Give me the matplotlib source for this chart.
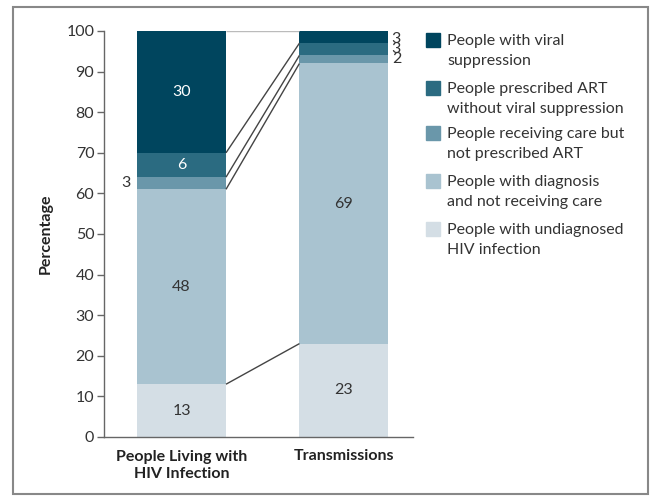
import numpy as np
import matplotlib.pyplot as plt
from matplotlib.patches import Rectangle

plt.rcParams['font.family'] = ['Lato', 'DejaVu Sans']

groups = ['People Living with\nHIV Infection', 'Transmissions']
series = ['People with undiagnosed\nHIV infection',
          'People with diagnosis\nand not receiving care',
          'People receiving care but\nnot prescribed ART',
          'People prescribed ART\nwithout viral suppression',
          'People with viral\nsuppression']
living = [13, 48, 3, 6, 30]
transmissions = [23, 69, 2, 3, 3]
colors = ['#d4dee5', '#a9c3d0', '#6a97aa', '#2b6b81', '#00455e']
text_colors = ['#333333', '#333333', '#333333', 'white', 'white']

W, H = 652, 497
fs = 11.5
fig = plt.figure(figsize=(W / 100, H / 100), dpi=100)
ax = fig.add_axes([104 / W, 1 - 437 / H, (413 - 104) / W, (437 - 31) / H])

x = np.array([0, 1])
width = 0.548
data = np.array([living, transmissions])
bottoms = np.zeros(2)
for i in range(len(series)):
    ax.bar(x, data[:, i], width, bottom=bottoms, color=colors[i], linewidth=0)
    bottoms += data[:, i]

# connecting lines between cumulative boundaries
cum = np.cumsum(data, axis=1)
for i in range(len(series)):
    c = '#bbbbbb' if i == len(series) - 1 else '#444444'
    ax.plot([width / 2, 1 - width / 2], [cum[0, i], cum[1, i]],
            color=c, lw=1.0, solid_capstyle='butt')

# segment labels
for j in range(2):
    lo = 0
    for i in range(len(series)):
        v = data[j, i]
        mid = lo + v / 2
        lo += v
        if v >= 5:
            ax.text(x[j], mid, str(v), ha='center', va='center',
                    fontsize=fs, color=text_colors[i])
ax.text(-width / 2 - 0.04, cum[0, 1] + living[2] / 2, str(living[2]),
        ha='right', va='center', fontsize=fs, color='#333333')
small = '\n'.join(str(v) for v in transmissions[:1:-1])
ax.text(1 + width / 2 + 0.02, 95.6, small, ha='left', va='center',
        fontsize=fs, color='#333333', linespacing=0.66)

ax.set_xlim(-0.477, 1.425)
ax.set_ylim(0, 100)
ax.set_yticks(np.arange(0, 101, 10))
ax.set_xticks(x)
ax.set_xticklabels(groups, fontsize=fs, fontweight='bold', color='#222222',
                   linespacing=1.35)
ax.tick_params(axis='x', length=0, pad=9)
ax.tick_params(axis='y', direction='out', length=5, width=1, color='#666666',
               labelsize=fs, labelcolor='#333333', pad=2)
for s in ['top', 'right']:
    ax.spines[s].set_visible(False)
for s in ['left', 'bottom']:
    ax.spines[s].set_color('#666666')
    ax.spines[s].set_linewidth(1)
ax.set_ylabel('Percentage', fontsize=fs, fontweight='bold', color='#222222',
              labelpad=10)

# legend drawn by hand
leg_tops = [33, 81, 126, 174, 222]
for i, top in enumerate(leg_tops):
    k = len(series) - 1 - i
    fig.patches.append(Rectangle((426 / W, 1 - (top + 14) / H), 14 / W, 14 / H,
                                 transform=fig.transFigure, color=colors[k]))
    fig.text(447 / W, 1 - (top + 1) / H, series[k], ha='left', va='top',
             fontsize=fs, color='#333333', linespacing=1.55)

# outer frame
fig.patches.append(Rectangle((13 / W, 1 - 494 / H), (648 - 13) / W, (494 - 7) / H,
                             transform=fig.transFigure, fill=False,
                             edgecolor='#888888', lw=1.5))

fig.savefig('out.png', dpi=100)
